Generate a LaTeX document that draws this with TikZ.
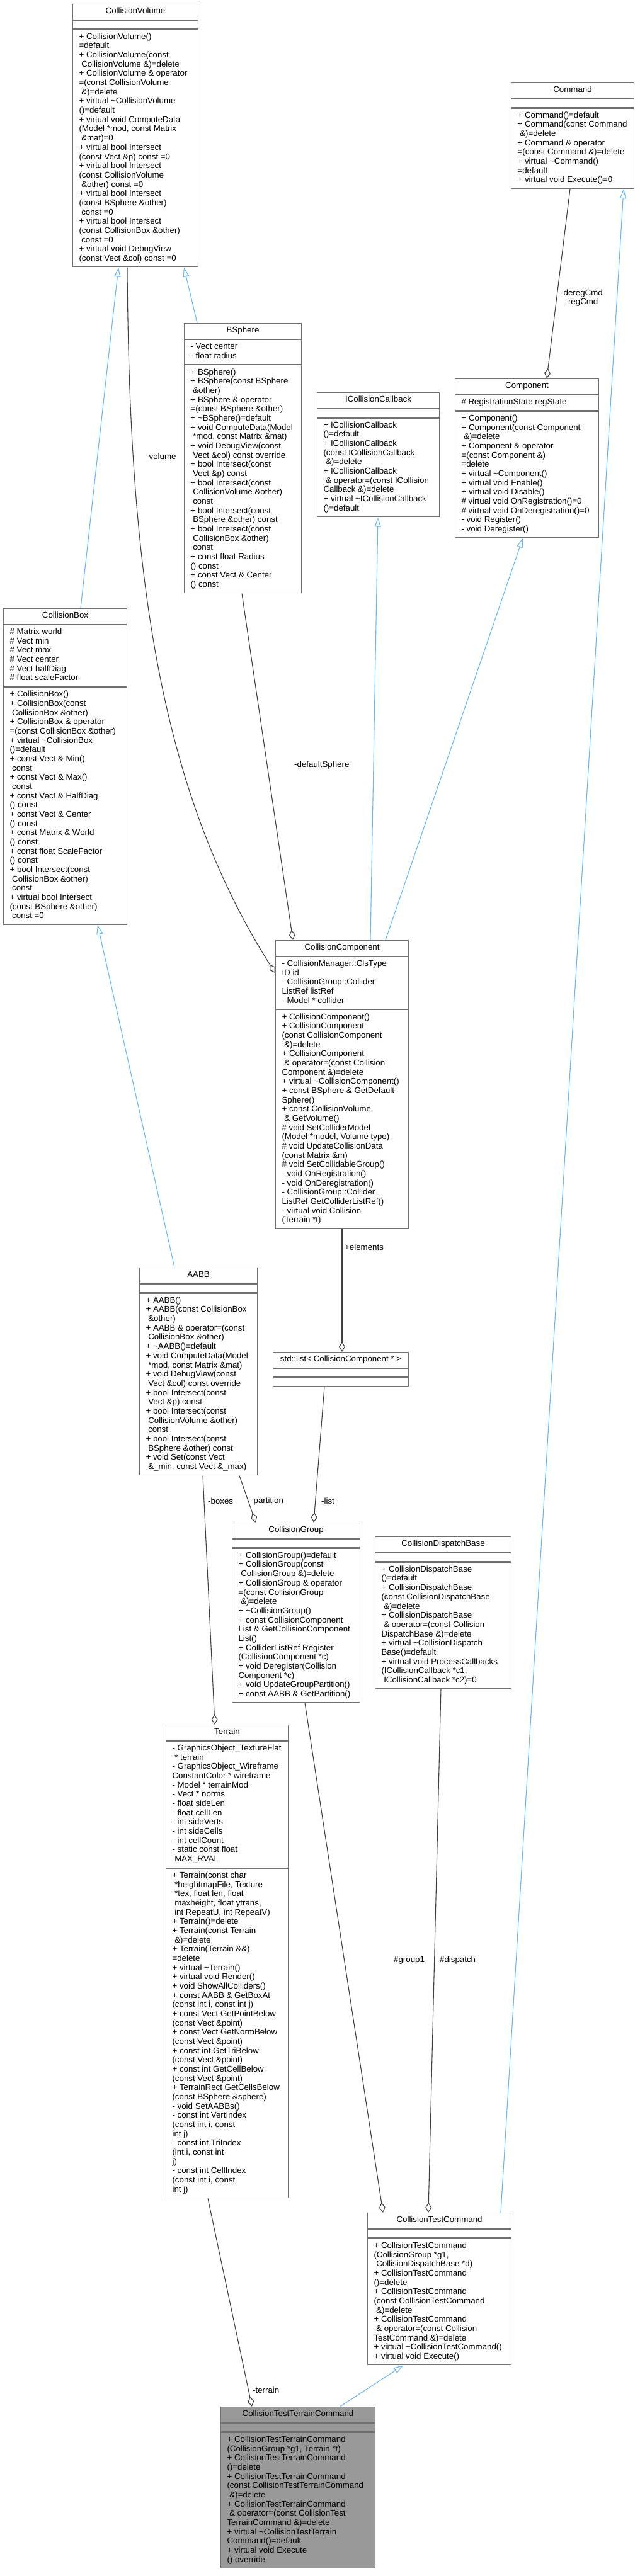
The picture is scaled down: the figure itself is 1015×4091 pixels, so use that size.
\documentclass[tikz,border=0pt]{standalone}
\usepackage{fontspec}
\setmainfont{Liberation Sans}
\usetikzlibrary{arrows.meta,fit,calc}
\definecolor{boxgray}{HTML}{707070}
\definecolor{inhblue}{HTML}{63B8FF}
\definecolor{agggray}{HTML}{404040}
\definecolor{focusgray}{HTML}{999999}
\newcommand\ind{\hspace*{3.7pt}}
\newcommand\tld{\textasciitilde}
\newcommand\lns[1]{\begin{tabular}{@{}l@{}}#1\end{tabular}}
\tikzset{
  every node/.style={font=\fontsize{13.3}{14.67}\selectfont},
  comp/.style={draw=boxgray, line width=1.1pt, fill=white, anchor=north west,
    inner xsep=10pt, inner ysep=5pt},
  ttl/.style={comp},
  inh/.style={draw=inhblue, line width=1.1pt, -{Triangle[open, length=15pt, width=10pt, fill=white]}},
  agg/.style={draw=agggray, line width=1.1pt, -{Diamond[open, length=16pt, width=10pt, fill=white]}},
  lbl/.style={inner sep=0pt, anchor=west}
}
% [style]{name}{x}{y}{width}{title}{attrs}{methods}
\newcommand\uml[8][]{%
  \node[ttl, #1] (#2-t) at (#3,#4) {\makebox[\dimexpr#5pt-20pt\relax][c]{\lns{#6}}};
  \node[comp, #1] (#2-a) at (#2-t.south west) {\makebox[\dimexpr#5pt-20pt\relax][l]{\lns{#7}}};
  \node[comp, #1] (#2-m) at (#2-a.south west) {\makebox[\dimexpr#5pt-20pt\relax][l]{\lns{#8}}};
  \node[fit=(#2-t)(#2-m), inner sep=0pt] (#2) {};
}
\begin{document}
\begin{tikzpicture}[x=1pt,y=-1pt]
\useasboundingbox[fill=white] (0,0) rectangle (1015,4091);

\uml{cv}{115}{6}{199}{CollisionVolume}{}{%
+ CollisionVolume()\\
=default\\
+ CollisionVolume(const\\
\ind CollisionVolume \&)=delete\\
+ CollisionVolume \& operator\\
=(const CollisionVolume\\
\ind \&)=delete\\
+ virtual \tld CollisionVolume\\
()=default\\
+ virtual void ComputeData\\
(Model *mod, const Matrix\\
\ind \&mat)=0\\
+ virtual bool Intersect\\
(const Vect \&p) const =0\\
+ virtual bool Intersect\\
(const CollisionVolume\\
\ind \&other) const =0\\
+ virtual bool Intersect\\
(const BSphere \&other)\\
\ind const =0\\
+ virtual bool Intersect\\
(const CollisionBox \&other)\\
\ind const =0\\
+ virtual void DebugView\\
(const Vect \&col) const =0}

\uml{cmd}{811}{131}{195}{Command}{}{%
+ Command()=default\\
+ Command(const Command\\
\ind \&)=delete\\
+ Command \& operator\\
=(const Command \&)=delete\\
+ virtual \tld Command()\\
=default\\
+ virtual void Execute()=0}

\uml{bs}{292}{513}{186}{BSphere}{- Vect center\\- float radius}{%
+ BSphere()\\
+ BSphere(const BSphere\\
\ind \&other)\\
+ BSphere \& operator\\
=(const BSphere \&other)\\
+ \tld BSphere()=default\\
+ void ComputeData(Model\\
\ind *mod, const Matrix \&mat)\\
+ void DebugView(const\\
\ind Vect \&col) const override\\
+ bool Intersect(const\\
\ind Vect \&p) const\\
+ bool Intersect(const\\
\ind CollisionVolume \&other)\\
\ind const\\
+ bool Intersect(const\\
\ind BSphere \&other) const\\
+ bool Intersect(const\\
\ind CollisionBox \&other)\\
\ind const\\
+ const float Radius\\
() const\\
+ const Vect \& Center\\
() const}

\uml{icc}{503}{623}{194}{ICollisionCallback}{}{%
+ ICollisionCallback\\
()=default\\
+ ICollisionCallback\\
(const ICollisionCallback\\
\ind \&)=delete\\
+ ICollisionCallback\\
\ind \& operator=(const ICollision\\
Callback \&)=delete\\
+ virtual \tld ICollisionCallback\\
()=default}

\uml{comp}{722}{601}{228}{Component}{\# RegistrationState regState}{%
+ Component()\\
+ Component(const Component\\
\ind \&)=delete\\
+ Component \& operator\\
=(const Component \&)\\
=delete\\
+ virtual \tld Component()\\
+ virtual void Enable()\\
+ virtual void Disable()\\
\# virtual void OnRegistration()=0\\
\# virtual void OnDeregistration()=0\\
- void Register()\\
- void Deregister()}

\uml{cbox}{5}{966}{196}{CollisionBox}{%
\# Matrix world\\
\# Vect min\\
\# Vect max\\
\# Vect center\\
\# Vect halfDiag\\
\# float scaleFactor}{%
+ CollisionBox()\\
+ CollisionBox(const\\
\ind CollisionBox \&other)\\
+ CollisionBox \& operator\\
=(const CollisionBox \&other)\\
+ virtual \tld CollisionBox\\
()=default\\
+ const Vect \& Min()\\
\ind const\\
+ const Vect \& Max()\\
\ind const\\
+ const Vect \& HalfDiag\\
() const\\
+ const Vect \& Center\\
() const\\
+ const Matrix \& World\\
() const\\
+ const float ScaleFactor\\
() const\\
+ bool Intersect(const\\
\ind CollisionBox \&other)\\
\ind const\\
+ virtual bool Intersect\\
(const BSphere \&other)\\
\ind const =0}

\uml{cc}{437}{1493}{211}{CollisionComponent}{%
- CollisionManager::ClsType\\
ID id\\
- CollisionGroup::Collider\\
ListRef listRef\\
- Model * collider}{%
+ CollisionComponent()\\
+ CollisionComponent\\
(const CollisionComponent\\
\ind \&)=delete\\
+ CollisionComponent\\
\ind \& operator=(const Collision\\
Component \&)=delete\\
+ virtual \tld CollisionComponent()\\
+ const BSphere \& GetDefault\\
Sphere()\\
+ const CollisionVolume\\
\ind \& GetVolume()\\
\# void SetColliderModel\\
(Model *model, Volume type)\\
\# void UpdateCollisionData\\
(const Matrix \&m)\\
\# void SetCollidableGroup()\\
- void OnRegistration()\\
- void OnDeregistration()\\
- CollisionGroup::Collider\\
ListRef GetColliderListRef()\\
- virtual void Collision\\
(Terrain *t)}

\uml{aabb}{221}{2013}{187}{AABB}{}{%
+ AABB()\\
+ AABB(const CollisionBox\\
\ind \&other)\\
+ AABB \& operator=(const\\
\ind CollisionBox \&other)\\
+ \tld AABB()=default\\
+ void ComputeData(Model\\
\ind *mod, const Matrix \&mat)\\
+ void DebugView(const\\
\ind Vect \&col) const override\\
+ bool Intersect(const\\
\ind Vect \&p) const\\
+ bool Intersect(const\\
\ind CollisionVolume \&other)\\
\ind const\\
+ bool Intersect(const\\
\ind BSphere \&other) const\\
+ void Set(const Vect\\
\ind \&\_min, const Vect \&\_max)}

\uml{stdl}{433}{2147}{215}{std::list< CollisionComponent * >}{}{}

\uml{cg}{368}{2418}{203}{CollisionGroup}{}{%
+ CollisionGroup()=default\\
+ CollisionGroup(const\\
\ind CollisionGroup \&)=delete\\
+ CollisionGroup \& operator\\
=(const CollisionGroup\\
\ind \&)=delete\\
+ \tld CollisionGroup()\\
+ const CollisionComponent\\
List \& GetCollisionComponent\\
List()\\
+ ColliderListRef Register\\
(CollisionComponent *c)\\
+ void Deregister(Collision\\
Component *c)\\
+ void UpdateGroupPartition()\\
+ const AABB \& GetPartition()}

\uml{cdb}{595}{2440}{216}{CollisionDispatchBase}{}{%
+ CollisionDispatchBase\\
()=default\\
+ CollisionDispatchBase\\
(const CollisionDispatchBase\\
\ind \&)=delete\\
+ CollisionDispatchBase\\
\ind \& operator=(const Collision\\
DispatchBase \&)=delete\\
+ virtual \tld CollisionDispatch\\
Base()=default\\
+ virtual void ProcessCallbacks\\
(ICollisionCallback *c1,\\
\ind ICollisionCallback *c2)=0}

\uml{ter}{263}{2739}{194}{Terrain}{%
- GraphicsObject\_TextureFlat\\
\ind * terrain\\
- GraphicsObject\_Wireframe\\
ConstantColor * wireframe\\
- Model * terrainMod\\
- Vect * norms\\
- float sideLen\\
- float cellLen\\
- int sideVerts\\
- int sideCells\\
- int cellCount\\
- static const float\\
\ind MAX\_RVAL}{%
+ Terrain(const char\\
\ind *heightmapFile, Texture\\
\ind *tex, float len, float\\
\ind maxheight, float ytrans,\\
\ind int RepeatU, int RepeatV)\\
+ Terrain()=delete\\
+ Terrain(const Terrain\\
\ind \&)=delete\\
+ Terrain(Terrain \&\&)\\
=delete\\
+ virtual \tld Terrain()\\
+ virtual void Render()\\
+ void ShowAllColliders()\\
+ const AABB \& GetBoxAt\\
(const int i, const int j)\\
+ const Vect GetPointBelow\\
(const Vect \&point)\\
+ const Vect GetNormBelow\\
(const Vect \&point)\\
+ const int GetTriBelow\\
(const Vect \&point)\\
+ const int GetCellBelow\\
(const Vect \&point)\\
+ TerrainRect GetCellsBelow\\
(const BSphere \&sphere)\\
- void SetAABBs()\\
- const int VertIndex\\
(const int i, const\\
int j)\\
- const int TriIndex\\
(int i, const int\\
j)\\
- const int CellIndex\\
(const int i, const\\
int j)}

\uml{ctc}{583}{3514}{228}{CollisionTestCommand}{}{%
+ CollisionTestCommand\\
(CollisionGroup *g1,\\
\ind CollisionDispatchBase *d)\\
+ CollisionTestCommand\\
()=delete\\
+ CollisionTestCommand\\
(const CollisionTestCommand\\
\ind \&)=delete\\
+ CollisionTestCommand\\
\ind \& operator=(const Collision\\
TestCommand \&)=delete\\
+ virtual \tld CollisionTestCommand()\\
+ virtual void Execute()}

\uml[fill=focusgray]{cttc}{350}{3822}{245}{CollisionTestTerrainCommand}{}{%
+ CollisionTestTerrainCommand\\
(CollisionGroup *g1, Terrain *t)\\
+ CollisionTestTerrainCommand\\
()=delete\\
+ CollisionTestTerrainCommand\\
(const CollisionTestTerrainCommand\\
\ind \&)=delete\\
+ CollisionTestTerrainCommand\\
\ind \& operator=(const CollisionTest\\
TerrainCommand \&)=delete\\
+ virtual \tld CollisionTestTerrain\\
Command()=default\\
+ virtual void Execute\\
() override}

% inheritance
\draw[inh] (128,0 |- cbox.north) -- (188,0 |- cv.south);
\draw[inh] (313,0 |- bs.north) -- (292,0 |- cv.south);
\draw[inh] (277,0 |- aabb.north) -- (155,0 |- cbox.south);
\draw[inh] (588,0 |- cc.north) -- (600,0 |- icc.south);
\draw[inh] (612,0 |- cc.north) -- (830,0 |- comp.south);
\draw[inh] (795,0 |- ctc.north) -- (990,0 |- cmd.south);
\draw[inh] (540,0 |- cttc.north) -- (640,0 |- ctc.south);
% aggregation
\draw[agg] (202,0 |- cv.south) .. controls (205,900) and (250,1250) .. (cc.west |- 0,1545);
\draw[agg] (384,0 |- bs.south) -- (465,0 |- cc.north);
\draw[agg] (905,0 |- cmd.south) -- (868,0 |- comp.north);
\draw[agg] (543,0 |- cc.south) -- (543,0 |- stdl.north);
\draw[agg] (515,0 |- stdl.south) -- (498,0 |- cg.north);
\draw[agg] (380,0 |- aabb.south) -- (406,0 |- cg.north);
\draw[agg] (322,0 |- aabb.south) -- (341,0 |- ter.north);
\draw[agg] (484,0 |- cg.south) -- (608,0 |- ctc.north);
\draw[agg] (700,0 |- cdb.south) -- (680,0 |- ctc.north);
\draw[agg] (330,0 |- ter.south) -- (400,0 |- cttc.north);
% labels
\node[lbl] (l-vol) at (232,725) {-volume};
\node[lbl] (l-ds) at (467,1215) {-defaultSphere};
\node[lbl, align=center] (l-cmd) at (890,473) {-deregCmd\\-regCmd};
\node[lbl] (l-el) at (547,1981) {+elements};
\node[lbl] (l-list) at (510,2384) {-list};
\node[lbl] (l-part) at (398,2384) {-partition};
\node[lbl] (l-box) at (330,2384) {-boxes};
\node[lbl] (l-g1) at (625,3113) {\#group1};
\node[lbl] (l-disp) at (698,3113) {\#dispatch};
\node[lbl] (l-ter) at (401,3796) {-terrain};
\end{tikzpicture}
\end{document}
